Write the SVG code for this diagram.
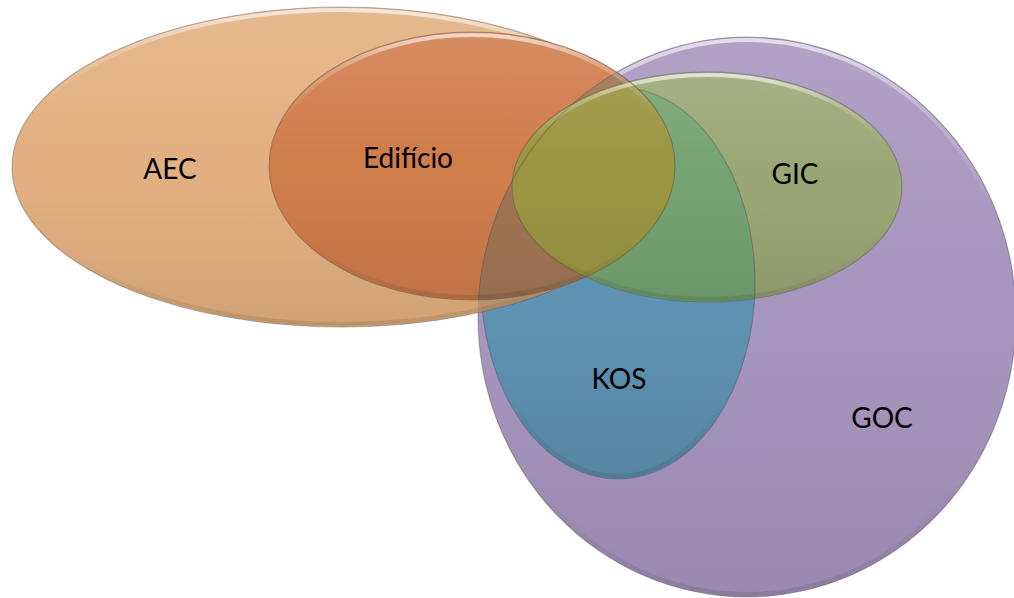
<svg xmlns="http://www.w3.org/2000/svg" width="1014" height="598" viewBox="0 0 1014 598">
<style>
.lbl{font-family:"Lato","Open Sans","Liberation Sans",sans-serif;font-size:28px;fill:#000;text-anchor:middle}
.edge{fill:none;stroke:#4a4a4a;stroke-opacity:.38;stroke-width:1.1}
.shade{fill:url(#shade)}
.rim{fill:none;stroke:url(#rim);stroke-width:4}
</style>
<defs>
<linearGradient id="shade" x1="0" y1="0" x2="0" y2="1">
<stop offset="0" stop-color="#fff" stop-opacity=".12"/>
<stop offset=".45" stop-color="#fff" stop-opacity="0"/>
<stop offset=".55" stop-color="#000" stop-opacity="0"/>
<stop offset="1" stop-color="#000" stop-opacity=".08"/>
</linearGradient>
<linearGradient id="rim" x1="0" y1="0" x2="0" y2="1">
<stop offset="0" stop-color="#fff" stop-opacity=".65"/>
<stop offset=".12" stop-color="#fff" stop-opacity=".25"/>
<stop offset=".3" stop-color="#fff" stop-opacity="0"/>
<stop offset=".8" stop-color="#000" stop-opacity="0"/>
<stop offset="1" stop-color="#000" stop-opacity=".1"/>
</linearGradient>
<clipPath id="clip-gic"><ellipse cx="707" cy="187" rx="195" ry="115"/></clipPath>
<clipPath id="clip-goc"><ellipse cx="747" cy="317" rx="269" ry="280"/></clipPath>
<clipPath id="clip-edi"><ellipse cx="472" cy="166" rx="203" ry="134"/></clipPath>
</defs>
<rect width="1014" height="598" fill="#fff"/>

<g id="node-goc">
<ellipse cx="747" cy="317" rx="269" ry="280" fill="#A695BD"/>
<ellipse class="shade" cx="747" cy="317" rx="269" ry="280"/>
<ellipse class="rim" cx="747" cy="317" rx="266" ry="277"/>
<ellipse class="edge" cx="747" cy="317" rx="269" ry="280"/>
<text class="lbl" x="882" y="428">GOC</text>
</g>

<g id="node-kos">
<ellipse cx="618" cy="283" rx="137" ry="196" fill="#5F92B2"/>
<ellipse class="shade" cx="618" cy="283" rx="137" ry="196"/>
<ellipse class="rim" cx="618" cy="283" rx="134" ry="193"/>
<ellipse class="edge" cx="618" cy="283" rx="137" ry="196"/>
<text class="lbl" x="619" y="389">KOS</text>
</g>

<g id="node-gic">
<ellipse cx="707" cy="187" rx="195" ry="115" fill="#9AA674"/>
<ellipse cx="618" cy="283" rx="137" ry="196" fill="#74A272" clip-path="url(#clip-gic)"/>
<ellipse class="edge" cx="618" cy="283" rx="137" ry="196" clip-path="url(#clip-gic)"/>
<ellipse class="shade" cx="707" cy="187" rx="195" ry="115"/>
<ellipse class="rim" cx="707" cy="187" rx="192" ry="112"/>
<ellipse class="edge" cx="707" cy="187" rx="195" ry="115"/>
<text class="lbl" x="795" y="184">GIC</text>
</g>

<g id="node-aec">
<ellipse cx="342" cy="167" rx="330" ry="160" fill="rgb(219,156,96)" fill-opacity=".8"/>
<ellipse class="shade" cx="342" cy="167" rx="330" ry="160"/>
<ellipse class="rim" cx="342" cy="167" rx="327" ry="157"/>
<ellipse class="edge" cx="342" cy="167" rx="330" ry="160"/>
<text class="lbl" x="170" y="179">AEC</text>
</g>

<g id="node-edificio">
<ellipse cx="472" cy="166" rx="203" ry="134" fill="#D07D4C"/>
<ellipse cx="747" cy="317" rx="269" ry="280" fill="#A27654" clip-path="url(#clip-edi)"/>
<ellipse cx="707" cy="187" rx="195" ry="115" fill="#9C9644" clip-path="url(#clip-edi)"/>
<ellipse class="edge" cx="747" cy="317" rx="269" ry="280" clip-path="url(#clip-edi)"/>
<ellipse class="edge" cx="707" cy="187" rx="195" ry="115" clip-path="url(#clip-edi)"/>
<ellipse class="rim" cx="707" cy="187" rx="192" ry="112" clip-path="url(#clip-edi)"/>
<ellipse class="shade" cx="472" cy="166" rx="203" ry="134"/>
<ellipse class="rim" cx="472" cy="166" rx="200" ry="131"/>
<ellipse class="edge" cx="472" cy="166" rx="203" ry="134"/>
<text class="lbl" x="408" y="168">Edifício</text>
</g>
</svg>
